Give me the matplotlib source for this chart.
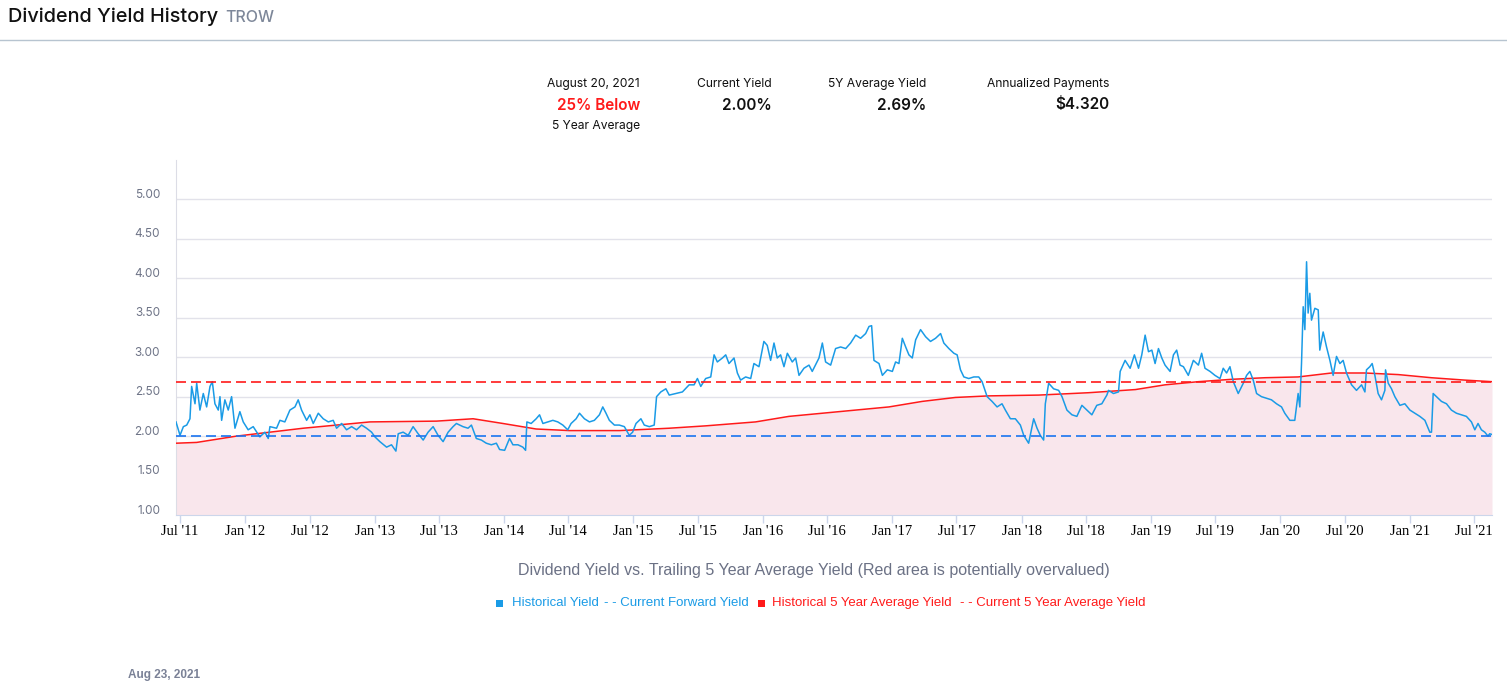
import numpy as np
import pandas as pd
import matplotlib
matplotlib.use("Agg")
import matplotlib.pyplot as plt
import matplotlib.transforms as mtransforms
from matplotlib.patches import Rectangle

# Historical dividend yield (decimal year, %)
yield_years = [
    2011.465, 2011.496, 2011.522, 2011.548, 2011.573, 2011.586, 2011.612, 2011.625, 2011.650, 2011.676,
    2011.702, 2011.728, 2011.746, 2011.766, 2011.792, 2011.805, 2011.818, 2011.843, 2011.869, 2011.895,
    2011.921, 2011.959, 2011.985, 2012.023, 2012.062, 2012.113, 2012.152, 2012.178, 2012.191, 2012.242,
    2012.268, 2012.306, 2012.345, 2012.384, 2012.409, 2012.435, 2012.474, 2012.499, 2012.525, 2012.564,
    2012.602, 2012.641, 2012.679, 2012.705, 2012.744, 2012.782, 2012.821, 2012.859, 2012.898, 2012.936,
    2012.975, 2013.001, 2013.039, 2013.091, 2013.129, 2013.163, 2013.181, 2013.219, 2013.258, 2013.296,
    2013.335, 2013.374, 2013.412, 2013.451, 2013.489, 2013.528, 2013.567, 2013.605, 2013.631, 2013.682,
    2013.721, 2013.747, 2013.785, 2013.824, 2013.862, 2013.901, 2013.940, 2013.965, 2014.004, 2014.042,
    2014.068, 2014.107, 2014.145, 2014.166, 2014.176, 2014.209, 2014.248, 2014.274, 2014.300, 2014.338,
    2014.377, 2014.415, 2014.454, 2014.492, 2014.518, 2014.557, 2014.583, 2014.621, 2014.660, 2014.698,
    2014.737, 2014.763, 2014.788, 2014.814, 2014.853, 2014.891, 2014.930, 2014.968, 2014.994, 2015.020,
    2015.058, 2015.084, 2015.123, 2015.161, 2015.179, 2015.212, 2015.251, 2015.277, 2015.328, 2015.379,
    2015.431, 2015.469, 2015.495, 2015.521, 2015.559, 2015.598, 2015.624, 2015.649, 2015.688, 2015.714,
    2015.739, 2015.778, 2015.804, 2015.829, 2015.868, 2015.907, 2015.932, 2015.971, 2016.009, 2016.035,
    2016.061, 2016.087, 2016.112, 2016.138, 2016.164, 2016.190, 2016.228, 2016.254, 2016.280, 2016.318,
    2016.357, 2016.382, 2016.434, 2016.460, 2016.485, 2016.524, 2016.562, 2016.601, 2016.640, 2016.678,
    2016.717, 2016.755, 2016.794, 2016.820, 2016.840, 2016.858, 2016.897, 2016.923, 2016.961, 2017.000,
    2017.025, 2017.051, 2017.077, 2017.103, 2017.128, 2017.154, 2017.180, 2017.218, 2017.257, 2017.295,
    2017.334, 2017.373, 2017.398, 2017.437, 2017.476, 2017.501, 2017.527, 2017.553, 2017.591, 2017.630,
    2017.668, 2017.694, 2017.733, 2017.771, 2017.810, 2017.848, 2017.874, 2017.913, 2017.951, 2017.990,
    2018.016, 2018.054, 2018.080, 2018.093, 2018.119, 2018.144, 2018.170, 2018.183, 2018.209, 2018.247,
    2018.286, 2018.312, 2018.350, 2018.389, 2018.427, 2018.466, 2018.504, 2018.543, 2018.581, 2018.620,
    2018.659, 2018.672, 2018.710, 2018.749, 2018.762, 2018.800, 2018.839, 2018.872, 2018.904, 2018.929,
    2018.955, 2018.981, 2019.007, 2019.032, 2019.058, 2019.084, 2019.109, 2019.148, 2019.174, 2019.199,
    2019.225, 2019.251, 2019.289, 2019.328, 2019.367, 2019.392, 2019.418, 2019.457, 2019.495, 2019.534,
    2019.559, 2019.585, 2019.611, 2019.637, 2019.675, 2019.714, 2019.740, 2019.765, 2019.791, 2019.817,
    2019.855, 2019.894, 2019.932, 2019.971, 2020.010, 2020.035, 2020.074, 2020.112, 2020.138, 2020.151,
    2020.164, 2020.177, 2020.190, 2020.203, 2020.215, 2020.228, 2020.241, 2020.267, 2020.293, 2020.305,
    2020.331, 2020.357, 2020.383, 2020.408, 2020.434, 2020.460, 2020.485, 2020.511, 2020.550, 2020.588,
    2020.627, 2020.653, 2020.665, 2020.691, 2020.709, 2020.730, 2020.755, 2020.781, 2020.807, 2020.812,
    2020.833, 2020.858, 2020.884, 2020.923, 2020.961, 2021.000, 2021.038, 2021.077, 2021.116, 2021.154,
    2021.167, 2021.180, 2021.206, 2021.244, 2021.283, 2021.321, 2021.360, 2021.399, 2021.437, 2021.476,
    2021.502, 2021.527, 2021.553, 2021.579, 2021.604, 2021.617, 2021.635,
]
yield_values = [
    2.18, 2.01, 2.12, 2.14, 2.22, 2.63, 2.41, 2.67, 2.33, 2.54,
    2.37, 2.63, 2.69, 2.41, 2.33, 2.50, 2.20, 2.46, 2.33, 2.50,
    2.10, 2.31, 2.18, 2.08, 2.12, 1.99, 2.05, 1.97, 2.12, 2.10,
    2.20, 2.18, 2.33, 2.37, 2.46, 2.33, 2.20, 2.27, 2.16, 2.29,
    2.22, 2.18, 2.20, 2.10, 2.16, 2.08, 2.12, 2.08, 2.14, 2.10,
    2.05, 1.99, 1.93, 1.86, 1.89, 1.81, 2.03, 2.05, 2.01, 2.12,
    2.03, 1.95, 2.05, 2.12, 2.01, 1.93, 2.05, 2.12, 2.16, 2.12,
    2.10, 2.14, 1.97, 1.95, 1.91, 1.89, 1.91, 1.83, 1.82, 1.97,
    1.89, 1.89, 1.86, 1.82, 2.18, 2.16, 2.22, 2.27, 2.16, 2.18,
    2.20, 2.18, 2.14, 2.08, 2.16, 2.22, 2.29, 2.22, 2.18, 2.20,
    2.27, 2.37, 2.29, 2.20, 2.14, 2.14, 2.12, 2.01, 2.05, 2.16,
    2.22, 2.14, 2.12, 2.14, 2.50, 2.56, 2.60, 2.52, 2.54, 2.56,
    2.65, 2.65, 2.73, 2.63, 2.73, 2.75, 3.03, 2.94, 2.99, 3.03,
    2.92, 2.99, 2.80, 2.71, 2.75, 2.73, 2.92, 2.88, 3.20, 3.15,
    2.96, 3.18, 2.99, 3.03, 2.88, 3.05, 2.94, 2.99, 2.77, 2.86,
    2.90, 2.82, 2.99, 3.18, 2.94, 2.90, 3.11, 3.13, 3.11, 3.18,
    3.28, 3.24, 3.30, 3.39, 3.40, 2.96, 2.92, 2.77, 2.84, 2.82,
    2.94, 2.92, 3.24, 3.13, 3.03, 2.99, 3.22, 3.35, 3.26, 3.20,
    3.24, 3.30, 3.18, 3.11, 3.05, 3.03, 2.84, 2.75, 2.73, 2.75,
    2.75, 2.69, 2.50, 2.44, 2.37, 2.41, 2.33, 2.22, 2.22, 2.14,
    2.01, 1.91, 2.12, 2.22, 2.10, 2.01, 1.95, 2.41, 2.67, 2.60,
    2.58, 2.50, 2.33, 2.27, 2.25, 2.39, 2.33, 2.27, 2.39, 2.41,
    2.52, 2.58, 2.54, 2.56, 2.82, 2.96, 2.86, 3.03, 2.86, 3.03,
    3.28, 3.07, 3.09, 2.92, 3.11, 2.99, 2.90, 2.82, 3.03, 3.09,
    2.90, 2.88, 2.77, 2.96, 2.90, 3.05, 2.86, 2.82, 2.77, 2.73,
    2.86, 2.80, 2.88, 2.69, 2.54, 2.67, 2.77, 2.82, 2.71, 2.54,
    2.50, 2.48, 2.46, 2.41, 2.37, 2.29, 2.20, 2.20, 2.54, 2.37,
    2.92, 3.64, 3.35, 4.21, 3.56, 3.81, 3.47, 3.62, 3.60, 3.09,
    3.32, 3.13, 2.96, 2.77, 3.01, 2.92, 2.96, 2.80, 2.65, 2.58,
    2.65, 2.56, 2.84, 2.88, 2.92, 2.77, 2.54, 2.46, 2.58, 2.84,
    2.67, 2.60, 2.50, 2.39, 2.41, 2.33, 2.29, 2.25, 2.20, 2.05,
    2.05, 2.54, 2.50, 2.44, 2.41, 2.33, 2.29, 2.27, 2.25, 2.18,
    2.08, 2.16, 2.08, 2.05, 2.00, 2.03, 2.02,
]

# Trailing 5 year average yield
avg_years = [
    2011.465, 2011.625, 2011.933, 2012.448, 2012.962, 2013.477, 2013.760, 2013.991, 2014.248, 2014.505,
    2014.891, 2015.277, 2015.559, 2015.945, 2016.202, 2016.588, 2016.974, 2017.231, 2017.488, 2017.746,
    2018.131, 2018.517, 2018.880, 2019.109, 2019.367, 2019.624, 2019.881, 2020.138, 2020.395, 2020.653,
    2020.910, 2021.167, 2021.424, 2021.635,
]
avg_values = [
    1.91, 1.92, 2.00, 2.10, 2.18, 2.19, 2.22, 2.16, 2.09, 2.07,
    2.07, 2.10, 2.13, 2.18, 2.25, 2.31, 2.37, 2.44, 2.49, 2.51,
    2.52, 2.55, 2.59, 2.65, 2.69, 2.72, 2.74, 2.75, 2.80, 2.80,
    2.78, 2.74, 2.71, 2.69,
]

current_yield = 2.00
current_avg = 2.69

tick_dates = ["2011-07-01", "2012-01-01", "2012-07-01", "2013-01-01", "2013-07-01", "2014-01-01",
              "2014-07-01", "2015-01-01", "2015-07-01", "2016-01-01", "2016-07-01", "2017-01-01",
              "2017-07-01", "2018-01-01", "2018-07-01", "2019-01-01", "2019-07-01", "2020-01-01",
              "2020-07-01", "2021-01-01", "2021-07-01"]
tick_labels = ["Jul '11", "Jan '12", "Jul '12", "Jan '13", "Jul '13", "Jan '14", "Jul '14",
               "Jan '15", "Jul '15", "Jan '16", "Jul '16", "Jan '17", "Jul '17", "Jan '18",
               "Jul '18", "Jan '19", "Jul '19", "Jan '20", "Jul '20", "Jan '21", "Jul '21"]
y_ticks = [1.0, 1.5, 2.0, 2.5, 3.0, 3.5, 4.0, 4.5, 5.0]


def year_to_date(y):
    yr = int(y)
    start = pd.Timestamp(yr, 1, 1)
    end = pd.Timestamp(yr + 1, 1, 1)
    return start + (end - start) * (y - yr)


yield_dates = [year_to_date(y) for y in yield_years]
avg_dates = [year_to_date(y) for y in avg_years]

W, H = 1507, 684
fig = plt.figure(figsize=(W / 100, H / 100), dpi=100)


def px(x, y):
    return x / W, 1 - y / H


BLUE = "#1a9be6"
RED = "#ff1a1a"
GREY = "#6e7487"

ax = fig.add_axes([176 / W, (H - 515) / H, 1316 / W, 355 / H])
ax.fill_between(avg_dates, 1.0, avg_values, color="#f9e6ec", lw=0, zorder=1)
ax.plot(avg_dates, avg_values, color=RED, lw=1.1, zorder=3)
ax.plot(yield_dates, yield_values, color=BLUE, lw=1.1, zorder=4)
ax.axhline(current_avg, color=RED, lw=1.2, ls=(0, (6, 3)), zorder=5)
ax.axhline(current_yield, color="#1a74f0", lw=1.2, ls=(0, (6, 3)), zorder=5)

ax.set_xlim(yield_dates[0], yield_dates[-1])
ax.set_ylim(1.0, 5.5)
ax.set_yticks(y_ticks)
ax.set_yticklabels([f"{v:.2f}" for v in y_ticks])
ax.set_xticks(pd.to_datetime(tick_dates))
ax.set_xticklabels(tick_labels)
ax.yaxis.grid(True, color="#e2e2ea", lw=1, zorder=0)
ax.set_axisbelow(True)

for s in ["top", "right"]:
    ax.spines[s].set_visible(False)
ax.spines["left"].set_color("#dcdde6")
ax.spines["bottom"].set_color("#ccd6eb")

ax.tick_params(axis="y", length=0, pad=11.5, labelsize=8.5, labelcolor=GREY)
ax.tick_params(axis="x", length=6, width=1, color="#ccd6eb", pad=1, labelsize=10.5)
for lab in ax.get_yticklabels():
    lab.set_fontfamily("Inter")
    lab.set_transform(lab.get_transform() + mtransforms.ScaledTranslation(0, 0.06, fig.dpi_scale_trans))
for lab in ax.get_xticklabels():
    lab.set_fontfamily("Liberation Serif")
    lab.set_color("black")

# Header
fig.text(*px(8, 17), "Dividend Yield History", fontsize=14.3, family="Inter", weight="medium",
         va="center", color="#111111")
fig.text(*px(225, 18), "TROW", fontsize=11.5, family="Inter", weight="medium", va="center", color="#7d8799")
fig.add_artist(plt.Line2D([0, 1], [1 - 40 / H] * 2, color="#b7c4d0", lw=1))

stats = [
    (640, ["August 20, 2021", "25% Below", "5 Year Average"]),
    (772, ["Current Yield", "2.00%"]),
    (926, ["5Y Average Yield", "2.69%"]),
    (1109, ["Annualized Payments", "$4.320"]),
]
for xr, lines in stats:
    fig.text(*px(xr, 84), lines[0], fontsize=8.7, family="Inter", ha="right", va="center", color="#111111")
    col = RED if lines[1].endswith("Below") else "#111111"
    fig.text(*px(xr, 105), lines[1], fontsize=11, family="Inter", ha="right", va="center",
             color=col, weight="semibold")
    if len(lines) > 2:
        fig.text(*px(xr, 126), lines[2], fontsize=8.7, family="Inter", ha="right", va="center", color="#111111")

fig.text(*px(814, 571), "Dividend Yield vs. Trailing 5 Year Average Yield (Red area is potentially overvalued)",
         fontsize=11.5, family="Liberation Sans", ha="center", va="center", color="#6b7185")

legend_items = [
    (512, "Historical Yield", BLUE), (604, "- - Current Forward Yield", BLUE),
    (772, "Historical 5 Year Average Yield", RED), (960, "- - Current 5 Year Average Yield", RED),
]
for x, t, c in legend_items:
    fig.text(*px(x, 603), t, fontsize=9.5, family="Liberation Sans", ha="left", va="center", color=c)
for x, c in [(496, BLUE), (758, RED)]:
    fig.add_artist(Rectangle(px(x, 607), 7 / W, 7 / H, transform=fig.transFigure, color=c, lw=0))

fig.text(*px(128, 675), "Aug 23, 2021", fontsize=8.5, family="Liberation Sans", weight="bold",
         ha="left", va="center", color="#7a8196")

fig.savefig("out.png", dpi=100)
